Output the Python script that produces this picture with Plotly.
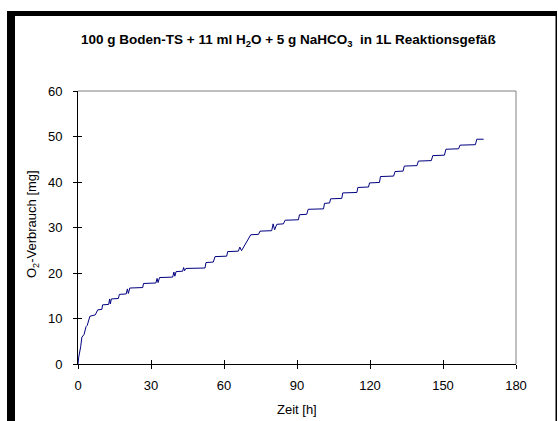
import plotly.graph_objects as go

# Data (time in h, O2 consumption in mg)
zeit_h = [0, 0.3, 1.1, 1.6, 2.5, 3.3, 3.8, 4.9, 7.1, 8.1, 9.8, 10.1, 12.6, 13.0, 13.3, 13.7,
          16.6, 17.0, 19.8, 20.3, 20.7, 21.3, 26.6, 26.9, 32.0, 32.5, 32.9, 33.5, 38.9, 39.4,
          39.8, 40.3, 43.0, 43.4, 43.8, 44.3, 52.2, 52.6, 55.6, 56.3, 61.1, 61.5, 65.9, 66.5,
          67.2, 68.0, 68.7, 70.0, 71.0, 74.2, 74.8, 79.6, 80.2, 80.8, 81.7, 84.4, 85.1, 90.6,
          91.0, 94.0, 94.6, 100.9, 101.3, 103.4, 103.8, 108.4, 108.8, 114.6, 115.0, 119.4,
          119.8, 123.9, 124.3, 129.7, 130.3, 133.6, 134.1, 139.3, 139.9, 145.2, 145.8, 150.6,
          151.2, 156.4, 157.0, 163.3, 163.9, 166.7]
o2_mg = [0, 1.5, 3.8, 5.9, 6.5, 8.2, 8.5, 10.5, 10.8, 11.9, 12.0, 13.0, 13.1, 14.3, 13.2, 14.3,
         14.4, 15.3, 15.4, 16.5, 15.5, 16.7, 16.8, 17.7, 17.8, 18.8, 17.9, 19.0, 19.1, 20.2,
         19.3, 20.3, 20.4, 21.2, 20.5, 21.0, 21.1, 22.3, 22.4, 23.6, 23.7, 24.7, 24.8, 25.7,
         24.9, 25.6, 26.2, 27.3, 28.4, 28.5, 29.2, 29.3, 30.8, 29.5, 30.7, 30.8, 31.6, 31.7,
         32.8, 32.9, 34.0, 34.1, 35.3, 35.4, 36.3, 36.4, 37.6, 37.7, 38.8, 38.9, 39.8, 39.9,
         41.2, 41.3, 42.3, 42.4, 43.5, 43.6, 44.6, 44.7, 45.8, 45.9, 47.2, 47.3, 48.1, 48.2,
         49.4, 49.4]
x_ticks = [0, 30, 60, 90, 120, 150, 180]
y_ticks = [0, 10, 20, 30, 40, 50, 60]

W, H = 558, 421
L, R, T, B = 78, 42, 91, 57
pw, ph = W - L - R, H - T - B

def px(x):
    return (x - L) / pw

def py(y):
    return (H - B - y) / ph

FONT = "Liberation Sans, Arial, sans-serif"

fig = go.Figure()
fig.add_trace(go.Scatter(x=zeit_h, y=o2_mg, mode="lines",
                         line=dict(color="#000080", width=1), showlegend=False,
                         hoverinfo="skip"))
# helper trace for the inside-tick overlay axes
fig.add_trace(go.Scatter(x=[0, 180], y=[0, 60], mode="lines", line=dict(width=0, color="rgba(0,0,0,0)"),
                         xaxis="x2", yaxis="y2", showlegend=False, hoverinfo="skip"))

axis_common = dict(showgrid=False, zeroline=False, showline=True, linecolor="#000000", linewidth=1,
                   ticks="outside", ticklen=4, tickcolor="#000000", tickwidth=1,
                   tickfont=dict(family=FONT, size=13, color="#000000"))

fig.update_layout(
    width=W, height=H,
    margin=dict(l=L, r=R, t=T, b=B, autoexpand=False),
    paper_bgcolor="white", plot_bgcolor="white",
    xaxis=dict(range=[0, 180], tickvals=x_ticks, ticktext=[str(v) for v in x_ticks],
               ticklabelstandoff=5, **axis_common),
    yaxis=dict(range=[0, 60], tickvals=y_ticks, ticktext=[str(v) for v in y_ticks],
               ticklabelstandoff=8, **axis_common),
    xaxis2=dict(range=[0, 180], overlaying="x", tickvals=x_ticks, showticklabels=False,
                ticks="inside", ticklen=4, tickcolor="#000000", showgrid=False, zeroline=False,
                showline=False, side="bottom", anchor="y2"),
    yaxis2=dict(range=[0, 60], overlaying="y", tickvals=y_ticks, showticklabels=False,
                ticks="inside", ticklen=4, tickcolor="#000000", showgrid=False, zeroline=False,
                showline=False, side="left", anchor="x2"),
    showlegend=False,
)

shapes = []
# grey top and right plot frame
shapes.append(dict(type="line", xref="paper", yref="paper", x0=0, x1=1, y0=1, y1=1,
                   line=dict(color="#808080", width=1)))
shapes.append(dict(type="line", xref="paper", yref="paper", x0=1, x1=1, y0=0, y1=1,
                   line=dict(color="#808080", width=1)))
# black chart-area border (left, top, right)
shapes.append(dict(type="rect", xref="paper", yref="paper", x0=px(7), x1=px(15), y0=py(421), y1=py(11),
                   fillcolor="black", line=dict(width=0)))
shapes.append(dict(type="rect", xref="paper", yref="paper", x0=px(7), x1=px(557), y0=py(16), y1=py(11),
                   fillcolor="black", line=dict(width=0)))
shapes.append(dict(type="rect", xref="paper", yref="paper", x0=px(555.5), x1=px(557), y0=py(421), y1=py(11),
                   fillcolor="black", line=dict(width=0)))
fig.update_layout(shapes=shapes)

annotations = [
    dict(text="<b>100 g Boden-TS + 11 ml H<sub>2</sub>O + 5 g NaHCO<sub>3</sub>  in 1L Reaktionsgefäß</b>",
         xref="paper", yref="paper", x=px(288), y=py(41), xanchor="center", yanchor="middle",
         showarrow=False, font=dict(family=FONT, size=13.5, color="#000000")),
    dict(text="Zeit [h]", xref="paper", yref="paper", x=px(297), y=py(409), xanchor="center",
         yanchor="middle", showarrow=False, font=dict(family=FONT, size=13, color="#000000")),
    dict(text="O<sub>2</sub>-Verbrauch [mg]", xref="paper", yref="paper", x=px(32), y=py(224),
         xanchor="center", yanchor="middle", textangle=-90, showarrow=False,
         font=dict(family=FONT, size=13, color="#000000")),
]
fig.update_layout(annotations=annotations)

fig.write_html("out.html", config={"displayModeBar": False},
               post_script="document.body.style.margin='0';document.body.style.overflow='hidden';")
